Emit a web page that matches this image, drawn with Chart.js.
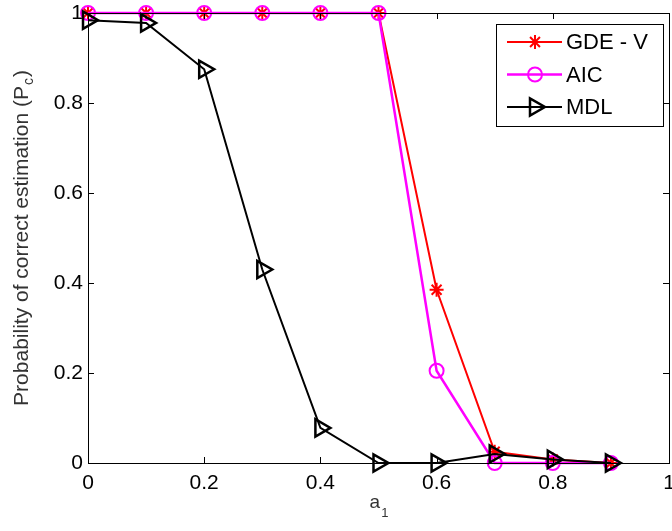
<!DOCTYPE html>
<html><head><meta charset="utf-8">
<script src="https://cdn.jsdelivr.net/npm/chart.js@4/dist/chart.umd.min.js"></script>
<style>html,body{margin:0;padding:0;background:#fff}#wrap{width:672px;height:531px}</style>
</head><body><div id="wrap"><canvas id="c" width="672" height="531"></canvas></div>
<script>
const xValues = [0, 0.1, 0.2, 0.3, 0.4, 0.5, 0.6, 0.7, 0.8, 0.9];
const gdeV = [1, 1, 1, 1, 1, 1, 0.385, 0.025, 0.008, 0];
const aic = [1, 1, 1, 1, 1, 1, 0.205, 0, 0, 0];
const mdl = [0.984, 0.978, 0.875, 0.43, 0.078, 0, 0, 0.02, 0.008, 0];
const xTicks = [0, 0.2, 0.4, 0.6, 0.8, 1];
const yTicks = [0, 0.2, 0.4, 0.6, 0.8, 1];
const seriesNames = ['GDE - V', 'AIC', 'MDL'];
const xLabelMain = 'a', xLabelSub = '1';
const yLabelMain = 'Probability of correct estimation (P', yLabelSub = 'c', yLabelEnd = ')';

const FONT = '"Liberation Sans", Arial, Helvetica, sans-serif';
const pts = arr => xValues.map((x, i) => ({x: x, y: arr[i]}));

function drawMarker(ctx, ds, x, y) {
  const H = Chart.helpers;
  ctx.save();
  ctx.strokeStyle = ds.pointBorderColor;
  ctx.fillStyle = 'rgba(0,0,0,0)';
  ctx.lineWidth = ds.pointBorderWidth;
  H.drawPoint(ctx, {pointStyle: ds.pointStyle, radius: ds.pointRadius, rotation: ds.pointRotation || 0, borderWidth: ds.pointBorderWidth}, x, y);
  ctx.restore();
}

const boxPlugin = {
  id: 'matlabBox',
  afterDatasetsDraw(chart) {
    const {ctx, chartArea: a, scales} = chart;
    ctx.save();
    ctx.strokeStyle = '#000';
    ctx.lineWidth = 1;
    ctx.beginPath();
    ctx.rect(Math.round(a.left) + 0.5, Math.round(a.top) + 0.5, Math.round(a.right - a.left), Math.round(a.bottom - a.top));
    ctx.stroke();
    const tl = 6;
    ctx.beginPath();
    xTicks.forEach(v => {
      const px = Math.round(scales.x.getPixelForValue(v)) + 0.5;
      ctx.moveTo(px, a.bottom); ctx.lineTo(px, a.bottom - tl);
      ctx.moveTo(px, a.top); ctx.lineTo(px, a.top + tl);
    });
    yTicks.forEach(v => {
      const py = Math.round(scales.y.getPixelForValue(v)) + 0.5;
      ctx.moveTo(a.left, py); ctx.lineTo(a.left + tl, py);
      ctx.moveTo(a.right, py); ctx.lineTo(a.right - tl, py);
    });
    ctx.stroke();
    ctx.restore();
  },
  afterDraw(chart) {
    const ctx = chart.ctx;
    const a = chart.chartArea;
    ctx.save();
    ctx.fillStyle = '#333';
    ctx.textBaseline = 'alphabetic';
    ctx.font = '19px ' + FONT;
    const wa = ctx.measureText(xLabelMain).width;
    ctx.font = '13px ' + FONT;
    const w1 = ctx.measureText(xLabelSub).width;
    const cx = (a.left + a.right) / 2;
    let sx = cx - (wa + w1) / 2;
    ctx.font = '19px ' + FONT;
    ctx.fillText(xLabelMain, sx, 508);
    ctx.font = '13px ' + FONT;
    ctx.fillText(xLabelSub, sx + wa + 1, 517);
    ctx.translate(28, (a.top + a.bottom) / 2);
    ctx.rotate(-Math.PI / 2);
    ctx.font = '21px ' + FONT;
    const wm = ctx.measureText(yLabelMain).width;
    const we = ctx.measureText(yLabelEnd).width;
    ctx.font = '14px ' + FONT;
    const ws = ctx.measureText(yLabelSub).width;
    let s = -(wm + ws + we + 2) / 2;
    ctx.font = '21px ' + FONT;
    ctx.fillText(yLabelMain, s, 0);
    ctx.font = '14px ' + FONT;
    ctx.fillText(yLabelSub, s + wm + 1, 5);
    ctx.font = '21px ' + FONT;
    ctx.fillText(yLabelEnd, s + wm + ws + 2, 0);
    ctx.restore();

    ctx.save();
    const L = {x: 496, y: 24, w: 167, h: 102};
    ctx.fillStyle = '#fff';
    ctx.fillRect(L.x, L.y, L.w, L.h);
    ctx.strokeStyle = '#000';
    ctx.lineWidth = 1;
    ctx.strokeRect(L.x + 0.5, L.y + 0.5, L.w, L.h);
    chart.data.datasets.forEach((ds, i) => {
      const y = L.y + 18 + i * 32.5;
      ctx.strokeStyle = ds.borderColor;
      ctx.lineWidth = ds.borderWidth;
      ctx.beginPath();
      ctx.moveTo(L.x + 11, y); ctx.lineTo(L.x + 66, y);
      ctx.stroke();
      drawMarker(ctx, ds, L.x + 39, y);
      ctx.fillStyle = '#000';
      ctx.font = '22px ' + FONT;
      ctx.textBaseline = 'middle';
      ctx.fillText(ds.label, L.x + 70, y + 1);
    });
    ctx.restore();
  }
};

new Chart(document.getElementById('c'), {
  type: 'line',
  data: {
    datasets: [
      {label: seriesNames[0], data: pts(gdeV), borderColor: '#ff0000', borderWidth: 2, pointStyle: 'star', pointRadius: 7, pointBorderWidth: 2, pointBorderColor: '#ff0000', pointBackgroundColor: 'rgba(0,0,0,0)', order: 2, clip: false, tension: 0},
      {label: seriesNames[1], data: pts(aic), borderColor: '#ff00ff', borderWidth: 2.5, pointStyle: 'circle', pointRadius: 7, pointBorderWidth: 2, pointBorderColor: '#ff00ff', pointBackgroundColor: 'rgba(0,0,0,0)', order: 1, clip: false, tension: 0},
      {label: seriesNames[2], data: pts(mdl), borderColor: '#000000', borderWidth: 2, pointStyle: 'triangle', pointRotation: 90, pointRadius: 10, pointBorderWidth: 2.5, pointBorderColor: '#000000', pointBackgroundColor: 'rgba(0,0,0,0)', order: 0, clip: false, tension: 0}
    ]
  },
  options: {
    responsive: false,
    animation: false,
    devicePixelRatio: 1,
    layout: {autoPadding: false, padding: {left: 0, top: 13, right: 3, bottom: 0}},
    plugins: {legend: {display: false}, tooltip: {enabled: false}},
    elements: {point: {hoverRadius: 7}},
    scales: {
      x: {
        type: 'linear', min: 0, max: 1,
        afterBuildTicks: s => { s.ticks = xTicks.map(v => ({value: v})); },
        afterFit: s => { s.height = 68; s.paddingLeft = 0; s.paddingRight = 0; },
        grid: {display: false, drawTicks: false},
        border: {display: true, color: '#000', width: 1},
        ticks: {color: '#000', font: {family: FONT, size: 21}, padding: 8, maxRotation: 0, autoSkip: false,
          callback: v => String(Math.round(v * 10) / 10)}
      },
      y: {
        type: 'linear', min: 0, max: 1,
        afterBuildTicks: s => { s.ticks = yTicks.map(v => ({value: v})); },
        afterFit: s => { s.width = 88; s.paddingTop = 0; s.paddingBottom = 0; },
        grid: {display: false, drawTicks: false},
        border: {display: true, color: '#000', width: 1},
        ticks: {color: '#000', font: {family: FONT, size: 21}, padding: 5, autoSkip: false,
          callback: v => String(Math.round(v * 10) / 10)}
      }
    }
  },
  plugins: [boxPlugin]
});
</script>
</body></html>
